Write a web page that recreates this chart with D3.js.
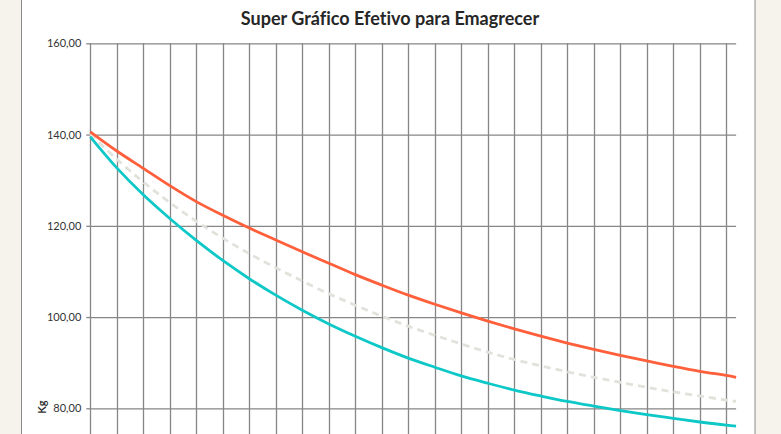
<!DOCTYPE html>
<html>
<head>
<meta charset="utf-8">
<script src="https://cdn.jsdelivr.net/npm/d3@7"></script>
<style>
  html, body { margin: 0; padding: 0; background: #f6f3ec; overflow: hidden; }
  svg { display: block; }
  text { font-variant-ligatures: none; }
</style>
</head>
<body>
<svg id="chart" width="781" height="434"></svg>
<script>
// semanas (a última é a ponta final da série)
let semanas = [0, 1, 2, 3, 4, 5, 6, 7, 8, 9, 10, 11, 12, 13, 14, 15, 16, 17, 18, 19, 20, 21, 22, 23, 24, 24.37];

let pesoLento = [140.6, 136.4, 132.6, 128.8, 125.3, 122.3, 119.5, 116.9, 114.3, 111.8, 109.3, 107.0, 104.8,
  102.8, 100.9, 99.1, 97.4, 95.8, 94.3, 92.9, 91.6, 90.4, 89.2, 88.1, 87.2, 86.8];
let pesoMedio = [140.1, 134.6, 129.6, 125.1, 121.0, 117.3, 113.9, 110.8, 107.9, 105.1, 102.6, 100.2, 98.0,
  96.0, 94.1, 92.3, 90.7, 89.3, 88.0, 86.8, 85.7, 84.6, 83.6, 82.7, 81.8, 81.5];
let pesoRapido = [139.5, 132.7, 126.8, 121.6, 116.8, 112.4, 108.4, 104.8, 101.5, 98.5, 95.8, 93.3, 91.0,
  89.0, 87.1, 85.5, 84.0, 82.7, 81.5, 80.5, 79.5, 78.6, 77.8, 77.0, 76.3, 76.1];

let yTicks = [160, 140, 120, 100, 80];
let gridWeeks = d3.range(0, 25);

let svg = d3.select("#chart");

// painel branco do gráfico
svg.append("rect")
  .attr("x", 21.5)
  .attr("y", -2)
  .attr("width", 733.5)
  .attr("height", 500)
  .attr("fill", "#ffffff")
  .attr("stroke", "#8a8a8a")
  .attr("stroke-width", 1);

svg.append("text")
  .attr("x", 390)
  .attr("y", 25)
  .attr("text-anchor", "middle")
  .attr("font-family", "Lato, 'Open Sans', sans-serif")
  .attr("font-weight", "bold")
  .attr("font-size", 18)
  .attr("fill", "#262626")
  .text("Super Gráfico Efetivo para Emagrecer");

let x = d3.scaleLinear()
  .domain([0, 24])
  .range([90.3, 726.3]);

let y = d3.scaleLinear()
  .domain([80, 160])
  .range([408.3, 43.3]);

let left = x(0), right = x(semanas[semanas.length - 1]);

// linhas de grade verticais
svg.append("g")
  .selectAll("line")
  .data(gridWeeks)
  .join("line")
  .attr("x1", d => Math.round(x(d)) + 0.5)
  .attr("x2", d => Math.round(x(d)) + 0.5)
  .attr("y1", y(160))
  .attr("y2", y(60))
  .attr("stroke", "#868686")
  .attr("stroke-width", 1.3);

// eixo Y com grade horizontal
let yAxis = svg.append("g")
  .attr("transform", `translate(${left}, 0)`)
  .call(d3.axisLeft(y)
    .tickValues(yTicks)
    .tickSize(4)
    .tickPadding(5)
    .tickFormat(d => d3.format(".2f")(d).replace(".", ",")));

yAxis.select(".domain").remove();
yAxis.selectAll(".tick line")
  .attr("stroke", "#868686")
  .attr("stroke-width", 1.3);
yAxis.selectAll(".tick")
  .append("line")
  .attr("x1", 0)
  .attr("x2", right - left)
  .attr("stroke", "#868686")
  .attr("stroke-width", 1.3);
yAxis.selectAll("text")
  .attr("font-family", "Lato, 'Open Sans', sans-serif")
  .attr("font-size", 11)
  .attr("fill", "#333333");

svg.append("text")
  .attr("transform", "translate(46, 407) rotate(-90)")
  .attr("text-anchor", "middle")
  .attr("font-family", "Lato, 'Open Sans', sans-serif")
  .attr("font-weight", "bold")
  .attr("font-size", 11)
  .attr("fill", "#333333")
  .text("Kg");

let series = [
  { values: pesoMedio, color: "#e2e2dc", dash: "7,5" },
  { values: pesoLento, color: "#ff5f3a", dash: null },
  { values: pesoRapido, color: "#0ec8c8", dash: null }
];

let line = d3.line()
  .x(d => x(d[0]))
  .y(d => y(d[1]))
  .curve(d3.curveCatmullRom);

svg.append("g")
  .selectAll("path")
  .data(series)
  .join("path")
  .attr("d", d => line(semanas.map((s, i) => [s, d.values[i]])))
  .attr("fill", "none")
  .attr("stroke", d => d.color)
  .attr("stroke-width", 2.8)
  .attr("stroke-dasharray", d => d.dash);
</script>
</body>
</html>
